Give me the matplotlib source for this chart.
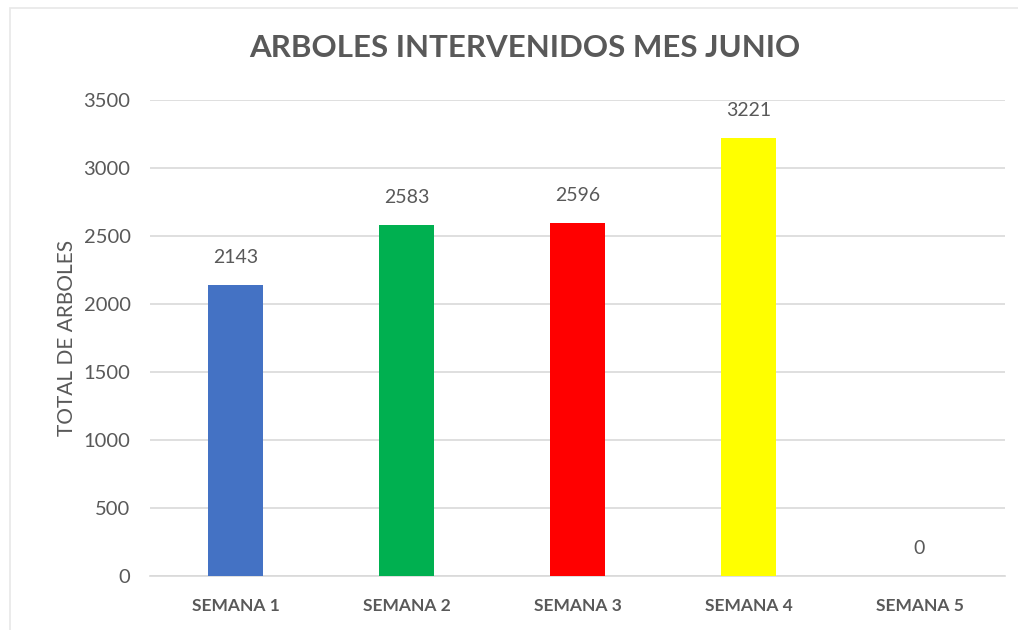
import matplotlib.pyplot as plt
from matplotlib.patches import Rectangle
import numpy as np

semanas = ["SEMANA 1", "SEMANA 2", "SEMANA 3", "SEMANA 4", "SEMANA 5"]
arboles = [2143, 2583, 2596, 3221, 0]
colores = ["#4472C4", "#00B050", "#FF0000", "#FFFF00", "#A5A5A5"]
ticks_y = [0, 500, 1000, 1500, 2000, 2500, 3000, 3500]

gris = "#595959"
plt.rcParams['font.family'] = ['Lato', 'DejaVu Sans']

fig = plt.figure(figsize=(10.18, 6.3), dpi=100)
# marco suave del grafico
fig.patches.append(Rectangle((10 / 1018, -0.02), 1.05, 1 - 8 / 630 + 0.02,
                             transform=fig.transFigure, fill=False,
                             edgecolor="#E8E8E8", linewidth=1.2))

ax = fig.add_axes([150 / 1018, 1 - 576 / 630, 855 / 1018, 476 / 630])

x = np.arange(len(semanas))
ax.bar(x, arboles, width=0.32, color=colores, zorder=3)

for xi, valor in zip(x, arboles):
    ax.text(xi, valor + 140, str(valor), ha="center", va="bottom",
            fontsize=14, color=gris)

ax.set_xlim(-0.5, len(semanas) - 0.5)
ax.set_ylim(0, 3500)
ax.set_yticks(ticks_y)
ax.set_xticks(x)
ax.set_xticklabels(semanas, fontsize=12.5, fontweight="bold", color=gris)
ax.tick_params(axis="y", labelsize=14.5, colors=gris, length=0, pad=14)
ax.tick_params(axis="x", length=0, pad=16)
ax.grid(axis="y", color="#D9D9D9", linewidth=1.2, zorder=0)
for lado in ["top", "right", "left"]:
    ax.spines[lado].set_visible(False)
ax.spines["bottom"].set_color("#D9D9D9")
ax.spines["bottom"].set_linewidth(1.2)

ax.set_ylabel("TOTAL DE ARBOLES", fontsize=15, color=gris, labelpad=5)
fig.text(525 / 1018, 1 - 48 / 630, "ARBOLES INTERVENIDOS MES JUNIO",
         ha="center", va="center", fontsize=22.5, fontweight="bold", color=gris)

fig.savefig("out.png", dpi=100)
